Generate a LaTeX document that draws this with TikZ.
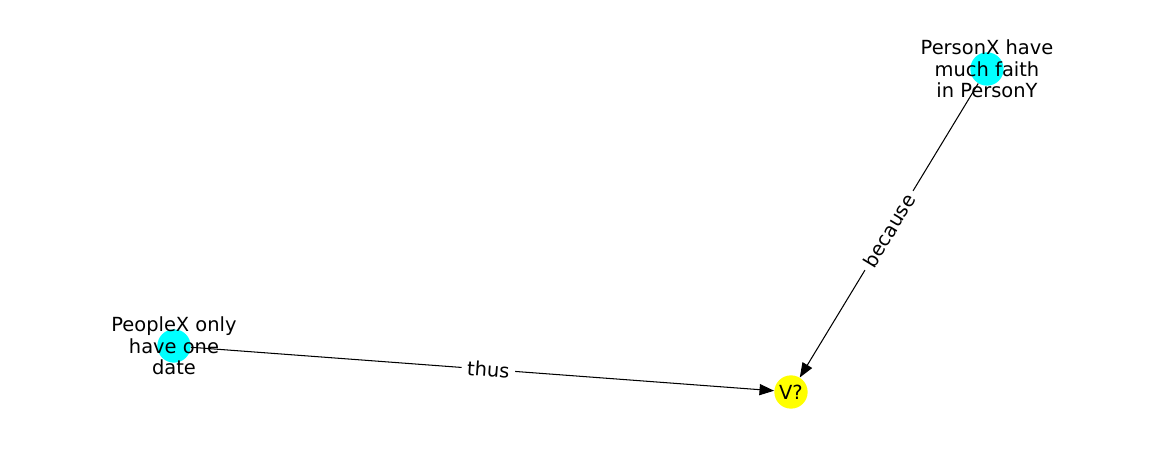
\documentclass[tikz,border=0pt]{standalone}
\usepackage{fontspec}
\setmainfont{DejaVu Sans}
\usetikzlibrary{arrows.meta}
\definecolor{nodecyan}{RGB}{0,255,255}
\definecolor{nodeyellow}{RGB}{255,255,0}
\begin{document}
\begin{tikzpicture}[x=0.72pt,y=-0.72pt,
  dot/.style={circle,inner sep=0pt,minimum size=24pt},
  lbl/.style={align=center,font=\fontsize{14}{15.5}\selectfont,inner sep=0pt,text=black},
  conn/.style={draw=black,line width=0.75pt,-{Triangle[length=10.5pt,width=8pt]}},
  elbl/.style={fill=white,inner xsep=4pt,inner ysep=3pt,font=\fontsize{14}{15}\selectfont,text=black}]
\useasboundingbox (0,0) rectangle (1162,462);
\node[dot,fill=nodecyan] (a) at (987,69) {};
\node[dot,fill=nodecyan] (b) at (174,346) {};
\node[dot,fill=nodeyellow] (v) at (791,392) {};
\node[lbl] (la) at (987,69) {PersonX have\\much faith\\in PersonY};
\node[lbl] (lb) at (174,346) {PeopleX only\\have one\\date};
\node[lbl] (lv) at (791,392) {V?};
\draw[conn] (a) -- node[elbl,sloped] {because} (v);
\draw[conn] (b) -- node[elbl,sloped,pos=0.51] {thus} (v);
\end{tikzpicture}
\end{document}
